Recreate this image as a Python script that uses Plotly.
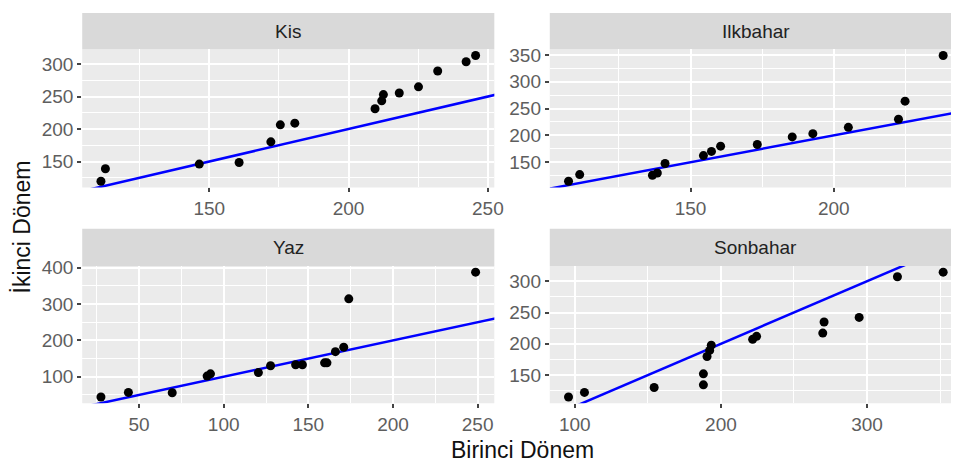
import plotly.graph_objects as go

# ---------------- data ----------------
panel_names = ["Kis", "Ilkbahar", "Yaz", "Sonbahar"]

kis_x = [111.1, 112.7, 146.4, 160.7, 172.1, 175.5, 180.7, 209.5, 211.9, 212.5, 218.2, 225.1, 232.0, 242.2, 245.6]
kis_y = [119.7, 138.9, 146.0, 148.5, 180.3, 206.5, 209.0, 231.3, 243.4, 253.0, 255.5, 265.0, 289.4, 303.5, 313.2]

ilk_x = [107.4, 111.3, 136.7, 138.4, 141.1, 154.5, 157.3, 160.5, 173.3, 185.5, 192.7, 205.1, 222.6, 224.9, 238.2]
ilk_y = [114.6, 126.9, 125.6, 129.8, 147.6, 162.3, 170.2, 180.0, 183.0, 197.2, 203.2, 215.0, 230.2, 263.8, 349.0]

yaz_x = [27.5, 43.7, 69.6, 90.2, 92.2, 120.5, 127.7, 142.5, 146.5, 159.6, 161.0, 166.0, 170.9, 173.9, 248.8]
yaz_y = [44.4, 57.0, 56.0, 101.9, 108.0, 111.6, 130.4, 133.1, 133.1, 138.4, 138.4, 169.0, 181.5, 314.2, 387.6]

son_x = [95.7, 106.6, 154.3, 188.0, 188.0, 190.5, 192.3, 193.4, 221.7, 224.4, 269.7, 270.6, 294.6, 320.8, 352.1]
son_y = [115.0, 122.3, 130.1, 152.0, 134.4, 179.7, 189.5, 197.8, 207.2, 211.9, 217.2, 234.8, 242.2, 307.2, 314.5]

# reference line y = slope * x + intercept
ref_slope = 1.0
ref_intercept = 0.0

x_title = "Birinci Dönem"
y_title = "İkinci Dönem"

# major tick spacing per panel (x, y)
x_dticks = [50, 50, 50, 100]
y_dticks = [50, 50, 100, 50]

# ---------------- layout ----------------
W, H = 960, 466
FONT = "Liberation Sans, Arial, sans-serif"
PANEL_BG = "#EBEBEB"
STRIP_BG = "#D9D9D9"
TICK_COL = "#5E5E5E"

# panel pixel boxes (left, right, top, bottom) and strip top
col_px = [(83, 499), (555, 960)]
row_px = [(41, 182), (262, 402)]
strip_top = [4, 224]
# right column is cut off by the picture edge
crop_frac = [1.0, 405.0 / 416.0]

series = [(kis_x, kis_y), (ilk_x, ilk_y), (yaz_x, yaz_y), (son_x, son_y)]


def expand(vals, frac=0.05):
    lo, hi = min(vals), max(vals)
    d = (hi - lo) * frac
    return [lo - d, hi + d]


fig = go.Figure()
layout = dict(
    width=W, height=H,
    margin=dict(l=0, r=0, t=0, b=0),
    paper_bgcolor="white",
    plot_bgcolor=PANEL_BG,
    showlegend=False,
    font=dict(family=FONT, size=19, color=TICK_COL),
    shapes=[], annotations=[],
)

for i, (name, (xs, ys)) in enumerate(zip(panel_names, series)):
    r, c = divmod(i, 2)
    n = i + 1
    xa = "x" if n == 1 else f"x{n}"
    ya = "y" if n == 1 else f"y{n}"
    xl, xr = col_px[c]
    yt, yb = row_px[r]
    xdom = [xl / W, xr / W]
    ydom = [1 - yb / H, 1 - yt / H]

    xr_full = expand(xs)
    xr_vis = [xr_full[0], xr_full[0] + (xr_full[1] - xr_full[0]) * crop_frac[c]]
    yr = expand(ys)

    # reference line
    lx = [xr_full[0] - 100, xr_full[1] + 100]
    ly = [ref_slope * v + ref_intercept for v in lx]
    fig.add_trace(go.Scatter(x=lx, y=ly, mode="lines", xaxis=xa, yaxis=ya,
                             line=dict(color="#0000FF", width=2.5), hoverinfo="skip"))
    fig.add_trace(go.Scatter(x=xs, y=ys, mode="markers", xaxis=xa, yaxis=ya,
                             marker=dict(color="black", size=9)))

    common = dict(showgrid=True, gridcolor="white", gridwidth=2, zeroline=False,
                  showline=False, ticks="outside", ticklen=4, tickwidth=1.5,
                  tickcolor="#444444", tick0=0,
                  tickfont=dict(family=FONT, size=19, color=TICK_COL))
    layout["xaxis" + ("" if n == 1 else str(n))] = dict(
        common, domain=xdom, anchor=ya, range=xr_vis, dtick=x_dticks[i],
        minor=dict(dtick=x_dticks[i] / 2, tick0=0, showgrid=True, gridcolor="white", gridwidth=1, ticks=""),
    )
    layout["yaxis" + ("" if n == 1 else str(n))] = dict(
        common, domain=ydom, anchor=xa, range=yr, dtick=y_dticks[i],
        minor=dict(dtick=y_dticks[i] / 2, tick0=0, showgrid=True, gridcolor="white", gridwidth=1, ticks=""),
    )

    # strip
    st = strip_top[r]
    layout["shapes"].append(dict(type="rect", xref="paper", yref="paper",
                                 x0=xdom[0], x1=xdom[1], y0=1 - yt / H, y1=1 - st / H,
                                 fillcolor=STRIP_BG, line=dict(width=0), layer="below"))
    layout["annotations"].append(dict(text=name, xref="paper", yref="paper",
                                      x=(xl + (xl + (xr - xl) / crop_frac[c])) / 2 / W,
                                      y=1 - (st + yt) / 2 / H, showarrow=False,
                                      xanchor="center", yanchor="middle",
                                      font=dict(family=FONT, size=19, color="#222222")))

layout["annotations"].append(dict(text=x_title, xref="paper", yref="paper",
                                  x=527 / W, y=1 - 450 / H, showarrow=False,
                                  xanchor="center", yanchor="middle",
                                  font=dict(family=FONT, size=23, color="#111111")))
layout["annotations"].append(dict(text=y_title, xref="paper", yref="paper",
                                  x=22 / W, y=1 - 222 / H, showarrow=False, textangle=-90,
                                  xanchor="center", yanchor="middle",
                                  font=dict(family=FONT, size=23, color="#111111")))

fig.update_layout(**layout)
fig.write_html("out.html")
